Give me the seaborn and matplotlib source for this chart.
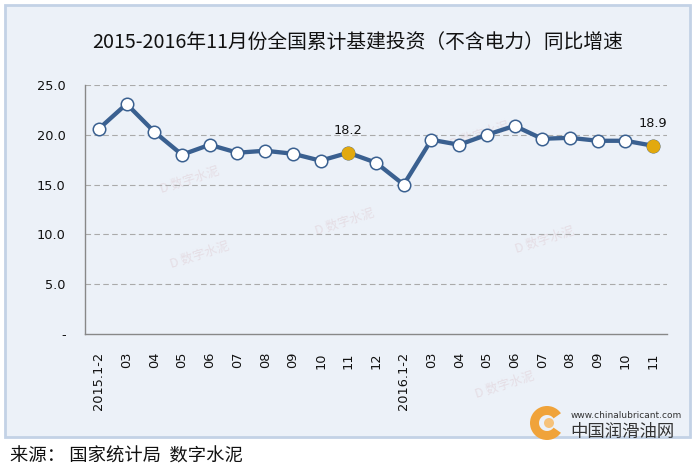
import matplotlib
matplotlib.use("Agg")
import matplotlib.pyplot as plt
from matplotlib.patches import Rectangle, Wedge, Circle
from matplotlib.ticker import FixedLocator
import seaborn as sns
import pandas as pd
import numpy as np

# ---- data ----
categories = ["2015.1-2", "03", "04", "05", "06", "07", "08", "09", "10", "11", "12",
              "2016.1-2", "03", "04", "05", "06", "07", "08", "09", "10", "11"]
values = [20.6, 23.1, 20.3, 18.0, 19.0, 18.2, 18.4, 18.1, 17.4, 18.2, 17.2,
          15.0, 19.5, 19.0, 20.0, 20.9, 19.6, 19.7, 19.4, 19.4, 18.9]
highlight_idx = [9, 20]
yticks = [0, 5, 10, 15, 20, 25]
ytick_labels = ["-", "5.0", "10.0", "15.0", "20.0", "25.0"]
title = "2015-2016年11月份全国累计基建投资（不含电力）同比增速"
source = "来源： 国家统计局  数字水泥"

sns.set_theme(style="white")
plt.rcParams['font.family'] = ['Noto Sans CJK SC', 'DejaVu Sans']

W, H = 697, 470
fig = plt.figure(figsize=(W / 100, H / 100), dpi=100, facecolor="white")

def fx(px):
    return px / W

def fy(py):
    return 1 - py / H

# panel
panel = Rectangle((fx(5), fy(437)), fx(690) - fx(5), fy(5) - fy(437),
                  transform=fig.transFigure, facecolor="#ECF1F8",
                  edgecolor="#C3D2E6", linewidth=2, zorder=-10)
fig.patches.append(panel)

line_color = "#3A6090"
gold = "#E2A90E"

ax = fig.add_axes([fx(85), fy(334), fx(667) - fx(85), fy(85) - fy(334)])
ax.set_facecolor("none")
ax.set_zorder(2)

df = pd.DataFrame({"x": np.arange(len(values)), "y": values, "cat": categories})
sns.lineplot(data=df, x="x", y="y", ax=ax, color=line_color, linewidth=3.1,
             marker="o", markersize=9, markerfacecolor="white",
             markeredgecolor=line_color, markeredgewidth=1.1, zorder=3)
hl = df.iloc[highlight_idx]
sns.scatterplot(data=hl, x="x", y="y", ax=ax, color=gold, s=95,
                edgecolor=gold, linewidth=0, zorder=4)
for _, r in hl.iterrows():
    ax.text(r["x"], r["y"] + 1.6, f"{r['y']:.1f}", ha="center", va="bottom",
            fontsize=9.3, color="#111111", family=['DejaVu Sans'])

ax.set_xlim(-0.5, len(values) - 0.5)
ax.set_ylim(0, 25)
ax.set_xlabel("")
ax.set_ylabel("")
ax.set_yticks(yticks)
ax.set_yticklabels(ytick_labels, fontsize=9.3, color="#111111", family=['DejaVu Sans'])
ax.tick_params(axis="y", length=0, pad=14)
ax.set_xticks(np.arange(len(values)))
ax.set_xticklabels(categories, rotation=90, fontsize=9.3, color="#111111",
                   family=['DejaVu Sans'], va="top")
ax.tick_params(axis="x", which="major", length=0, pad=13)
ax.xaxis.set_minor_locator(FixedLocator(np.arange(0.5, len(values) - 0.5, 1)))
ax.tick_params(axis="x", which="minor", direction="in", length=4, width=0.8,
               color="#888888")
for y in yticks[1:]:
    ax.axhline(y, color="#AAAAAA", linewidth=0.8, linestyle=(0, (5, 3)), zorder=1)
for s in ["top", "right"]:
    ax.spines[s].set_visible(False)
for s in ["left", "bottom"]:
    ax.spines[s].set_color("#888888")
    ax.spines[s].set_linewidth(1)

# watermarks
for (px, py) in [(190, 180), (200, 255), (345, 222), (480, 135), (545, 240), (505, 385)]:
    fig.text(fx(px), fy(py), "D 数字水泥", fontsize=9, color="#D8B9C0",
             alpha=0.35, rotation=18, ha="center", va="center", zorder=1)

# title
fig.text(fx(358), fy(42), title, fontsize=14.2, ha="center", va="center",
         color="#111111")

# source
fig.text(fx(10), fy(457), source, fontsize=13.2, ha="left", va="center",
         color="#111111")

# logo
lax = fig.add_axes([fx(528), fy(441), fx(40), fy(0) - fy(36)])
lax.set_zorder(3)
lax.set_xlim(0, 40)
lax.set_ylim(0, 36)
lax.set_aspect("equal")
lax.axis("off")
lax.add_patch(Wedge((19, 18), 17, 35, 325, width=9, facecolor="#F0A33A",
                    edgecolor="none"))
lax.add_patch(Circle((21, 18), 5, facecolor="#F6C27A", edgecolor="none"))
fig.text(fx(571), fy(416), "www.chinalubricant.com", fontsize=6.5,
         ha="left", va="center", color="#333333", family=['DejaVu Sans'])
fig.text(fx(570), fy(432), "中国润滑油网", fontsize=12.5, ha="left",
         va="center", color="#333333")

fig.savefig("out.png", dpi=100, facecolor="white")
